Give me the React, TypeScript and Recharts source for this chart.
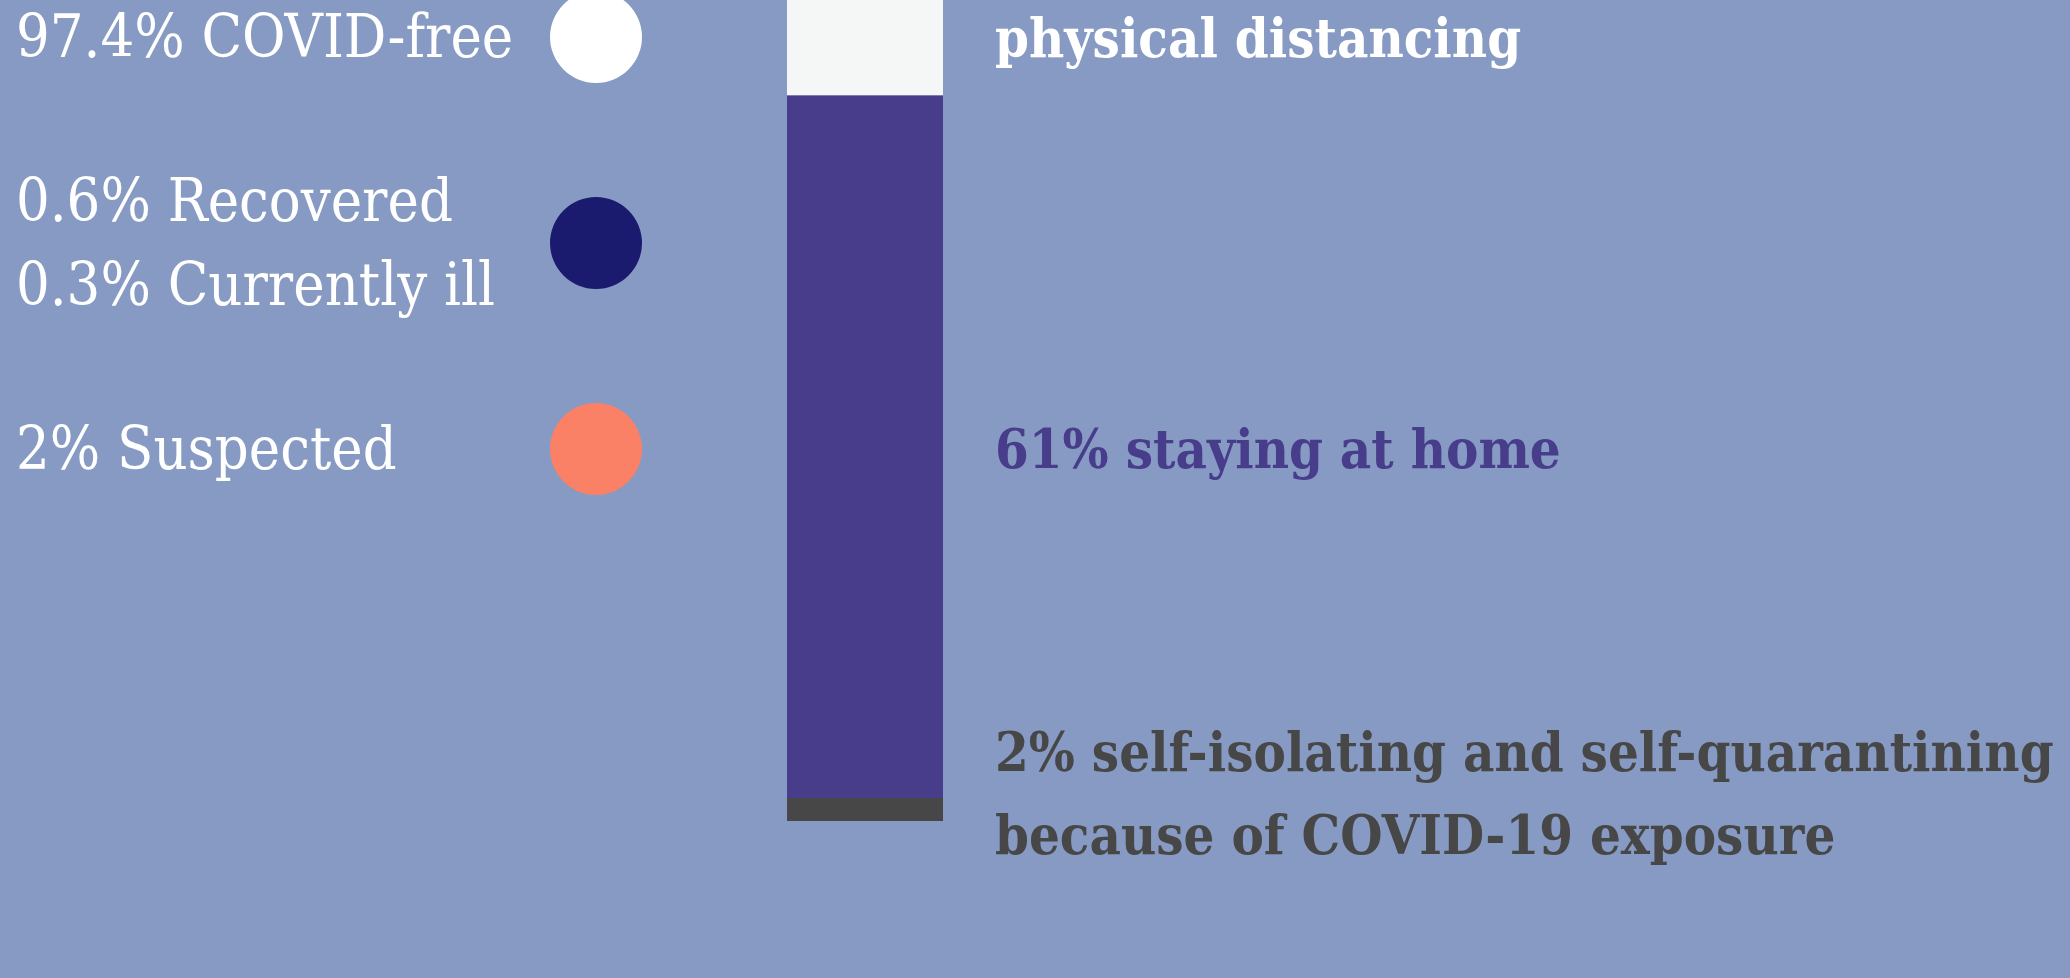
import React from 'react';
import { BarChart, Bar, XAxis, YAxis, LabelList } from 'recharts';

const categories = ['Respondents'];
const selfIsolating = [2];
const stayingHome = [61];
const physicalDistancing = [37];

const seriesLabels = [
  ['2% self-isolating and self-quarantining', 'because of COVID-19 exposure'],
  ['61% staying at home'],
  ['37% practising', 'physical distancing'],
];

const legendLabels = [['97.4% COVID-free'], ['0.6% Recovered', '0.3% Currently ill'], ['2% Suspected']];
const legendColors = ['#ffffff', '#1a1a6e', '#fa8165'];

const data = categories.map((name, i) => ({
  name,
  isolating: selfIsolating[i],
  home: stayingHome[i],
  distancing: physicalDistancing[i],
}));

const FONT = "'DejaVu Serif Condensed', 'DejaVu Serif', serif";
const LABEL_SIZE = 54;
const LINE = 83;

const makeLabel = (lines: string[], color: string, nudge: number) => (props: any) => {
  const x = Number(props.x) + Number(props.width) + 52;
  const mid = Number(props.y) + Number(props.height) / 2 + nudge;
  const first = mid - ((lines.length - 1) * LINE) / 2 + LABEL_SIZE * 0.37;
  return (
    <text x={x} y={first} fill={color} fontSize={LABEL_SIZE} fontWeight="bold" fontFamily={FONT}>
      {lines.map((l, i) => (
        <tspan key={i} x={x} dy={i === 0 ? 0 : LINE}>
          {l}
        </tspan>
      ))}
    </text>
  );
};

export default function App() {
  return (
    <div
      style={{
        position: 'absolute',
        left: 0,
        top: 0,
        width: 2070,
        height: 978,
        overflow: 'hidden',
        background: '#879ac4',
        fontFamily: FONT,
      }}
    >
      {/* legend of the status breakdown */}
      <div style={{ position: 'absolute', left: 16, top: -9, display: 'flex', flexDirection: 'column', gap: 76 }}>
        {legendLabels.map((lines, i) => (
          <div key={i} style={{ display: 'flex', alignItems: 'center' }}>
            <div style={{ width: 534, color: '#fff', fontSize: 59, lineHeight: '84px', whiteSpace: 'nowrap' }}>
              {lines.map((l) => (
                <div key={l}>{l}</div>
              ))}
            </div>
            <div style={{ width: 92, height: 92, borderRadius: '50%', background: legendColors[i] }} />
          </div>
        ))}
      </div>

      <div style={{ position: 'absolute', left: 0, top: -331 }}>
        <BarChart
          width={2070}
          height={1309}
          data={data}
          margin={{ top: 0, right: 1127, bottom: 157, left: 787 }}
          barCategoryGap={0}
          barGap={0}
        >
          <XAxis dataKey="name" hide />
          <YAxis hide domain={[0, 100]} />
          <Bar dataKey="isolating" stackId="a" fill="#474747" isAnimationActive={false}>
            <LabelList content={makeLabel(seriesLabels[0], '#474747', -17)} />
          </Bar>
          <Bar dataKey="home" stackId="a" fill="#483d8b" isAnimationActive={false}>
            <LabelList content={makeLabel(seriesLabels[1], '#483d8b', 1)} />
          </Bar>
          <Bar dataKey="distancing" stackId="a" fill="#f4f7f6" isAnimationActive={false}>
            <LabelList content={makeLabel(seriesLabels[2], '#ffffff', 113)} />
          </Bar>
        </BarChart>
      </div>
    </div>
  );
}
